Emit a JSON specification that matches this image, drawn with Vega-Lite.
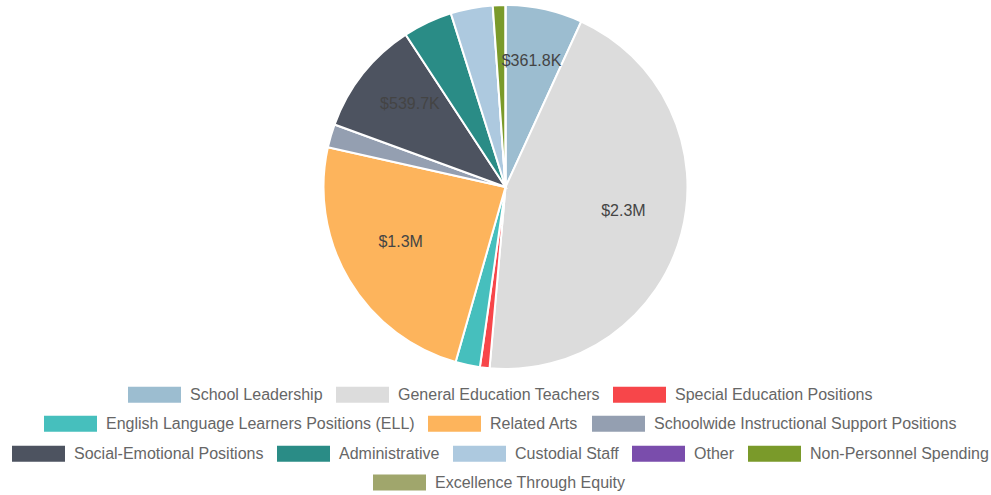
{
  "$schema": "https://vega.github.io/schema/vega-lite/v6.json",
  "width": 971,
  "height": 374,
  "autosize": "none",
  "padding": {"left": 20, "top": 0, "right": 0, "bottom": 121},
  "background": "#ffffff",
  "data": {
    "values": [
      {"category": "School Leadership", "amount": 361800, "label": "$361.8K"},
      {"category": "General Education Teachers", "amount": 2360000, "label": "$2.3M"},
      {"category": "Special Education Positions", "amount": 45000, "label": ""},
      {"category": "English Language Learners Positions (ELL)", "amount": 115000, "label": ""},
      {"category": "Related Arts", "amount": 1275000, "label": "$1.3M"},
      {"category": "Schoolwide Instructional Support Positions", "amount": 110000, "label": ""},
      {"category": "Social-Emotional Positions", "amount": 539700, "label": "$539.7K"},
      {"category": "Administrative", "amount": 232000, "label": ""},
      {"category": "Custodial Staff", "amount": 198000, "label": ""},
      {"category": "Other", "amount": 0, "label": ""},
      {"category": "Non-Personnel Spending", "amount": 59000, "label": ""},
      {"category": "Excellence Through Equity", "amount": 0, "label": ""}
    ]
  },
  "transform": [
    {"stack": "amount", "groupby": [], "as": ["v0", "v1"]}
  ],
  "layer": [
    {
      "transform": [{"filter": {"field": "category", "oneOf": ["School Leadership", "General Education Teachers", "Special Education Positions"]}}],
      "mark": {"type": "arc", "outerRadius": 182, "stroke": "#ffffff", "strokeWidth": 2},
      "encoding": {
        "theta": {"field": "v0", "type": "quantitative", "scale": {"nice": false, "zero": true}},
        "theta2": {"field": "v1"},
        "color": {
          "field": "category", "type": "nominal",
          "scale": {"domain": ["School Leadership", "General Education Teachers", "Special Education Positions"], "range": ["#9CBDD0", "#DCDCDC", "#F7464A"]},
          "legend": {"orient": "none", "direction": "horizontal", "legendX": 108, "legendY": 368, "title": null}
        }
      }
    },
    {
      "transform": [{"filter": {"field": "category", "oneOf": ["English Language Learners Positions (ELL)", "Related Arts", "Schoolwide Instructional Support Positions"]}}],
      "mark": {"type": "arc", "outerRadius": 182, "stroke": "#ffffff", "strokeWidth": 2},
      "encoding": {
        "theta": {"field": "v0", "type": "quantitative", "scale": {"nice": false, "zero": true}},
        "theta2": {"field": "v1"},
        "color": {
          "field": "category", "type": "nominal",
          "scale": {"domain": ["English Language Learners Positions (ELL)", "Related Arts", "Schoolwide Instructional Support Positions"], "range": ["#46BFBD", "#FDB45C", "#949FB1"]},
          "legend": {"orient": "none", "direction": "horizontal", "legendX": 24, "legendY": 397, "title": null}
        }
      }
    },
    {
      "transform": [{"filter": {"field": "category", "oneOf": ["Social-Emotional Positions", "Administrative", "Custodial Staff", "Other", "Non-Personnel Spending"]}}],
      "mark": {"type": "arc", "outerRadius": 182, "stroke": "#ffffff", "strokeWidth": 2},
      "encoding": {
        "theta": {"field": "v0", "type": "quantitative", "scale": {"nice": false, "zero": true}},
        "theta2": {"field": "v1"},
        "color": {
          "field": "category", "type": "nominal",
          "scale": {"domain": ["Social-Emotional Positions", "Administrative", "Custodial Staff", "Other", "Non-Personnel Spending"], "range": ["#4D5360", "#2A8C86", "#ADC9DF", "#7A4DAC", "#7A9A2A"]},
          "legend": {"orient": "none", "direction": "horizontal", "legendX": -8, "legendY": 427, "title": null}
        }
      }
    },
    {
      "transform": [{"filter": {"field": "category", "oneOf": ["Excellence Through Equity"]}}],
      "mark": {"type": "arc", "outerRadius": 182, "stroke": "#ffffff", "strokeWidth": 2},
      "encoding": {
        "theta": {"field": "v0", "type": "quantitative", "scale": {"nice": false, "zero": true}},
        "theta2": {"field": "v1"},
        "color": {
          "field": "category", "type": "nominal",
          "scale": {"domain": ["Excellence Through Equity"], "range": ["#A0A66C"]},
          "legend": {"orient": "none", "direction": "horizontal", "legendX": 353, "legendY": 456, "title": null}
        }
      }
    },
    {
      "mark": {"type": "text", "radius": 122, "dy": -7, "font": "Liberation Sans", "fontSize": 16, "color": "#444444", "align": "center", "baseline": "middle"},
      "encoding": {
        "theta": {"field": "amount", "type": "quantitative", "stack": true, "scale": {"nice": false, "zero": true}},
        "order": {"field": "v0", "type": "quantitative"},
        "text": {"field": "label", "type": "nominal"}
      }
    }
  ],
  "resolve": {"scale": {"color": "independent"}, "legend": {"color": "independent"}},
  "config": {
    "view": {"stroke": null},
    "legend": {
      "labelFont": "Liberation Sans",
      "labelFontSize": 16,
      "labelColor": "#666666",
      "labelLimit": 400,
      "labelOffset": 9,
      "columnPadding": 13,
      "padding": 0,
      "symbolType": "M-1,-0.3H1V0.3H-1Z",
      "symbolSize": 2809,
      "symbolStrokeWidth": 0,
      "symbolOpacity": 1
    }
  }
}
